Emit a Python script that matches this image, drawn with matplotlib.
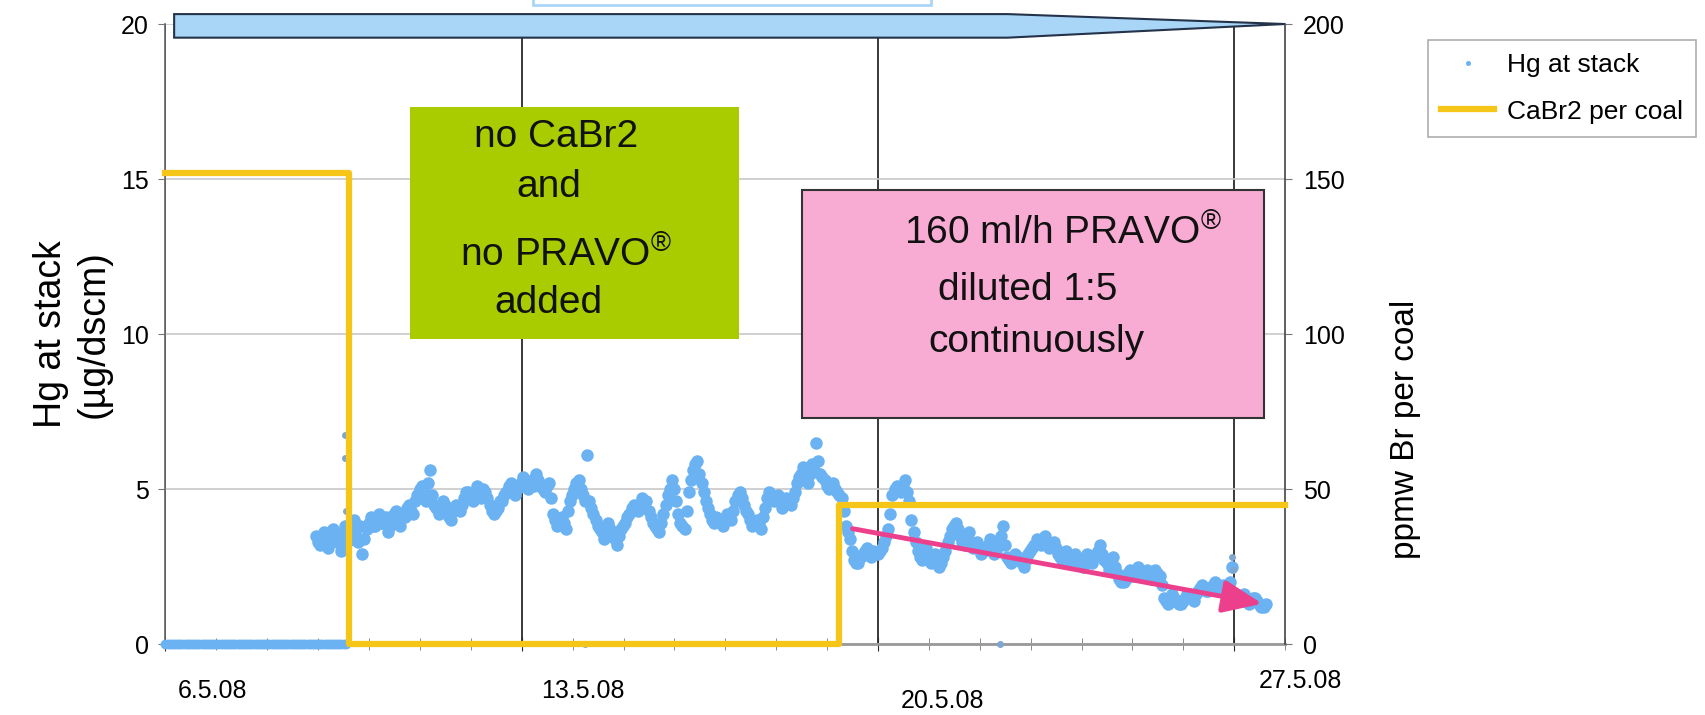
import numpy as np
import matplotlib
matplotlib.use("Agg")
import matplotlib.pyplot as plt
from matplotlib.patches import Polygon, Rectangle
from matplotlib.transforms import ScaledTranslation

plt.rcParams['font.family'] = ['Liberation Sans', 'DejaVu Sans']
plt.rcParams['mathtext.fontset'] = 'custom'
plt.rcParams['mathtext.rm'] = 'Liberation Sans'

# x axis: days after 6.5.08 00:00
date_ticks = [0, 7, 14, 21]
date_labels = ["6.5.08", "13.5.08", "20.5.08", "27.5.08"]

# Hg at stack (ug/dscm): analyser reading 0 at the start (hourly)
hg_zero_start, hg_zero_end = 0.0, 3.55
# readings every 2 h starting at day 2.95 (even hours)
hg_start = 2.95
hg_vals_a = [
    3.5, 3.2, 3.6, 3.1, 3.7, 3.3, 3.0, 3.8, 3.4, 4.0, 3.3, 2.9,
    3.7, 4.1, 3.8, 4.2, 3.9, 3.6, 4.0, 4.3, 3.8, 4.1, 4.5, 4.2,
    4.8, 5.1, 4.6, 5.6, 4.5, 4.2, 4.6, 4.3, 4.0, 4.5, 4.3, 4.7,
    4.9, 4.6, 5.1, 4.7, 4.9, 4.5, 4.2, 4.4, 4.6, 4.9, 5.2, 4.8,
    5.1, 5.4, 5.0, 5.3, 5.5, 5.1, 4.9, 5.2, 4.2, 3.8, 4.1, 3.7,
    4.6, 5.0, 5.3, 4.8, 6.1, 4.4, 4.0, 3.7, 3.4, 3.9, 3.5, 3.2,
    3.7, 3.9, 4.2, 4.5, 4.3, 4.7, 4.6, 4.1, 3.8, 3.6, 4.2, 4.8,
    5.3, 4.6, 3.9, 3.7, 4.9, 5.6, 5.9, 5.2, 4.6, 4.2, 3.9, 4.0,
    3.8, 4.2, 4.0, 4.6, 4.9, 4.5, 4.2, 3.8, 4.0, 3.7, 4.4, 4.9,
    4.6, 4.8, 4.4, 4.7, 4.5, 4.9, 5.4, 5.7, 5.2, 5.8, 6.5, 5.5,
    5.3, 5.0, 5.2, 4.9, 4.7, 3.8, 3.4, 2.7, 2.6, 2.9, 3.1, 2.8,
    2.9, 3.0, 3.3, 3.7, 4.8, 5.1, 4.9, 5.3, 4.6, 3.6, 3.0, 2.7,
    3.1, 2.6, 2.9, 2.5, 2.8, 3.3, 3.7, 3.9, 3.5, 3.2, 3.6, 3.1,
    3.3, 2.9, 3.1, 3.4, 2.9, 3.2, 3.8, 2.8, 2.6, 2.9, 2.7, 2.5,
    2.9, 3.1, 3.4, 3.2, 3.5, 3.1, 3.3, 2.9, 2.7, 3.0, 2.6, 2.9,
    2.7, 2.5, 2.9, 2.6, 2.9, 3.2, 2.7, 2.4, 2.8, 2.3, 2.0, 2.1,
    2.4, 2.2, 2.5, 2.2, 2.4, 2.1, 2.4, 2.2, 1.5, 1.3, 1.6, 1.4,
    1.3, 1.5, 1.6, 1.4, 1.7, 1.9, 1.7, 1.8, 2.0, 1.7, 1.9, 1.8,
    2.5, 1.5, 1.4, 1.6, 1.3, 1.5, 1.4, 1.2, 1.3,
]
# readings in between (odd hours)
hg_vals_b = [
    3.3, 3.5, 3.4, 3.6, 3.4, 3.5, 3.6, 3.3, 3.7, 3.5, 3.8, 3.4,
    3.9, 3.8, 4.0, 3.9, 4.1, 3.8, 4.2, 4.0, 4.2, 4.4, 4.3, 4.6,
    5.0, 4.9, 5.2, 4.8, 4.4, 4.4, 4.5, 4.1, 4.3, 4.4, 4.5, 4.9,
    4.7, 4.9, 4.8, 5.0, 4.7, 4.3, 4.3, 4.6, 4.8, 5.1, 5.0, 5.0,
    5.2, 5.2, 5.2, 5.1, 5.3, 5.0, 5.1, 4.7, 4.0, 4.0, 3.9, 4.3,
    4.8, 5.2, 5.0, 4.6, 4.6, 4.2, 3.8, 3.6, 3.7, 3.7, 3.4, 3.5,
    3.8, 4.1, 4.4, 4.4, 4.5, 4.6, 4.3, 3.9, 3.7, 3.9, 4.5, 5.0,
    5.0, 4.2, 3.8, 4.3, 5.3, 5.8, 5.5, 4.9, 4.4, 4.0, 4.1, 3.9,
    4.0, 4.1, 4.3, 4.8, 4.7, 4.3, 4.0, 3.9, 3.9, 4.1, 4.7, 4.7,
    4.7, 4.6, 4.6, 4.6, 4.7, 5.2, 5.5, 5.5, 5.5, 5.6, 5.9, 5.4,
    5.1, 5.1, 5.0, 4.8, 4.3, 3.6, 3.0, 2.6, 2.8, 3.0, 2.9, 3.0,
    2.9, 3.1, 3.5, 4.2, 5.0, 5.0, 5.1, 4.9, 4.0, 3.3, 2.8, 2.9,
    2.8, 2.7, 2.7, 2.6, 3.0, 3.5, 3.8, 3.7, 3.3, 3.4, 3.3, 3.2,
    3.1, 3.0, 3.2, 3.1, 3.0, 3.5, 3.2, 2.7, 2.7, 2.8, 2.6, 2.7,
    3.0, 3.2, 3.3, 3.4, 3.3, 3.2, 3.1, 2.8, 2.8, 2.8, 2.7, 2.8,
    2.6, 2.7, 2.7, 2.8, 3.0, 2.9, 2.6, 2.6, 2.5, 2.1, 2.0, 2.3,
    2.3, 2.3, 2.3, 2.3, 2.2, 2.3, 2.3, 1.9, 1.4, 1.5, 1.5, 1.3,
    1.4, 1.6, 1.5, 1.6, 1.8, 1.8, 1.7, 1.9, 1.8, 1.8, 1.8, 2.0,
    1.6, 1.5, 1.5, 1.4, 1.4, 1.5, 1.3, 1.2,
]
# isolated readings
hg_extra_days = [3.52, 3.53, 3.54, 8.25, 16.4, 20.96, 20.97]
hg_extra_vals = [6.75, 6.0, 4.3, 0.0, 0.0, 2.8, 2.4]

# CaBr2 per coal (ppmw Br), step changes
cabr2_days = [0, 3.6, 13.24, 22]
cabr2_ppmw = [152, 0, 45, 45]

BLUE = '#6ab2f2'
YELLOW = '#f5c518'

fig = plt.figure(figsize=(17.06, 7.15), dpi=100)
ax = fig.add_axes([0.097, 0.0993, 0.6563, 0.8671])
ax2 = ax.twinx()

# Hg series
zero_days = np.arange(hg_zero_start, hg_zero_end, 1 / 24)
days_a = hg_start + np.arange(len(hg_vals_a)) / 12
days_b = hg_start + 1 / 24 + np.arange(len(hg_vals_b)) / 12
hg_days = np.concatenate([days_a, days_b])
hg_vals = np.concatenate([hg_vals_a, hg_vals_b])

ax.plot(zero_days, np.zeros(len(zero_days)), ls='none', marker='o', ms=7,
        color=BLUE, mew=0, zorder=4, clip_on=False)
hg_line, = ax.plot(hg_days, hg_vals, ls='none', marker='o', ms=9,
                   color=BLUE, mew=0, zorder=4, label='Hg at stack')
ax.plot(hg_extra_days, hg_extra_vals, ls='none', marker='o', ms=5,
        color='#7ea6cf', mew=0, zorder=4, clip_on=False)

# CaBr2 dosing
cabr2_line, = ax2.step(cabr2_days, cabr2_ppmw, where='post', color=YELLOW,
                       lw=4.5, label='CaBr2 per coal', zorder=3, clip_on=False)

ax.set_xlim(0, 22)
ax.set_ylim(0, 20)
ax2.set_ylim(0, 200)
ax.set_yticks([0, 5, 10, 15, 20])
ax2.set_yticks([0, 50, 100, 150, 200])

ax.set_xticks(date_ticks)
ax.set_xticklabels(date_labels)
ax.set_xticks(np.arange(0, 23), minor=True)

ax.grid(axis='y', color='#c8c8c8', lw=1.2)
ax.grid(axis='x', which='major', color='#2a2a2a', lw=1.3)
ax.set_axisbelow(True)

for a in (ax, ax2):
    a.spines['top'].set_visible(False)
ax2.spines['left'].set_visible(False)
ax2.spines['bottom'].set_visible(False)
ax.spines['right'].set_visible(False)
ax.spines['left'].set_color('#666666')
ax.spines['left'].set_linewidth(1.2)
ax.spines['bottom'].set_color('#999999')
ax.spines['bottom'].set_linewidth(2)
ax2.spines['right'].set_color('#444444')
ax2.spines['right'].set_linewidth(1.2)

ax.tick_params(axis='y', labelsize=18, length=5, color='#777777', pad=7)
ax2.tick_params(axis='y', labelsize=18, length=5, color='#777777', pad=8)
ax.tick_params(axis='x', which='major', direction='inout', length=10,
               color='#2a2a2a', labelsize=18, pad=3)
ax.tick_params(axis='x', which='minor', direction='inout', length=8,
               color='#777777')

# Excel-like shifted date labels (dx, dy in pixels)
label_offsets = [(47, 24), (61, 24), (65, 34), (66, 14)]
for lab, (dx, dy) in zip(ax.get_xticklabels(), label_offsets):
    lab.set_transform(lab.get_transform() +
                      ScaledTranslation(dx / 100, -dy / 100, fig.dpi_scale_trans))

ax.set_ylabel('Hg at stack\n(\u00b5g/dscm)', fontsize=27, linespacing=1.25)
ax.yaxis.set_label_coords(-0.048, 0.5)
ax2.set_ylabel('ppmw Br per coal', fontsize=24, rotation=90)
ax2.yaxis.set_label_coords(1.094, 0.346)

# annotation boxes
ax.add_patch(Rectangle((4.80, 9.83), 6.47, 7.50, facecolor='#a8cc00',
                       edgecolor='none', zorder=3))
txt = dict(ha='center', va='center', fontsize=28, color='#111111', zorder=5)
ax.text(7.67, 16.36, 'no CaBr2', **txt)
ax.text(7.53, 14.75, 'and', **txt)
ax.text(7.88, 12.55, 'no PRAVO$^{\u00ae}$', **txt)
ax.text(7.52, 11.0, 'added', **txt)

ax.add_patch(Rectangle((12.51, 7.29), 9.07, 7.36, facecolor='#f8acd4',
                       edgecolor='#333333', lw=1.5, zorder=3))
ax.text(17.64, 13.26, '160 ml/h PRAVO$^{\u00ae}$', **txt)
ax.text(16.95, 11.42, 'diluted 1:5', **txt)
ax.text(17.12, 9.74, 'continuously', **txt)

# trend arrow
ax.annotate('', xy=(21.55, 1.3), xytext=(13.5, 3.72),
            arrowprops=dict(arrowstyle='-|>,head_length=1.2,head_width=0.5',
                            mutation_scale=20, color='#ec3f8c', lw=3.5,
                            shrinkA=0, shrinkB=0), zorder=6)

# time-line block arrow on top
ax.add_patch(Polygon([(0.17, 20.32), (16.55, 20.32), (22, 20.0),
                      (16.55, 19.56), (0.17, 19.56)], closed=True,
                     facecolor='#a9d5f7', edgecolor='#24324a', lw=1.5,
                     zorder=7, clip_on=False))

# clipped box at the very top of the slide
fig.patches.append(Rectangle((0.3125, 0.9925), 0.233, 0.05,
                             transform=fig.transFigure, facecolor='white',
                             edgecolor='#a9d5f7', lw=2))

leg = fig.legend(handles=[hg_line, cabr2_line], loc='upper left',
                 bbox_to_anchor=(0.837, 0.944), bbox_transform=fig.transFigure,
                 borderaxespad=0, fontsize=19, frameon=True, fancybox=False,
                 edgecolor='#999999', markerscale=0.4, handlelength=2.0,
                 handletextpad=0.5, borderpad=0.5, labelspacing=0.85)
leg.get_frame().set_linewidth(1.2)

fig.savefig('out.png', dpi=100)
